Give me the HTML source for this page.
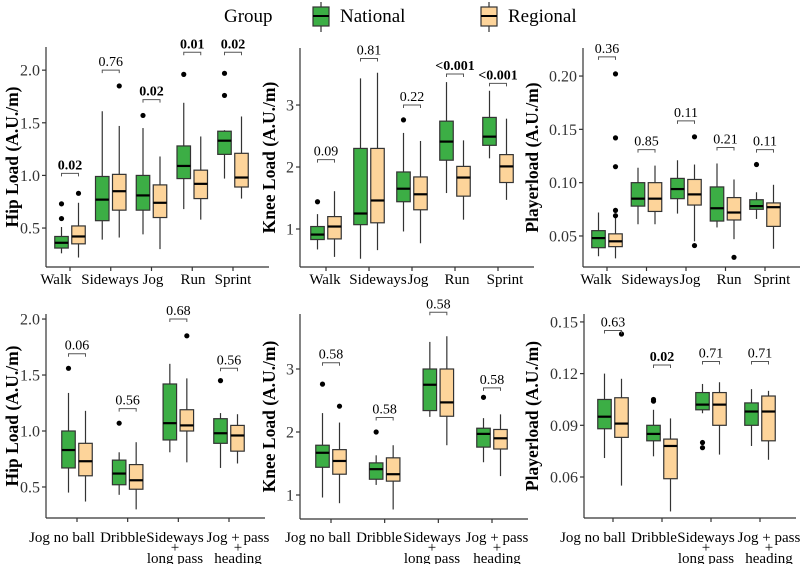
<!DOCTYPE html>
<html><head><meta charset="utf-8"><style>
html,body{margin:0;padding:0;background:#fff;}
svg{display:block;font-family:"Liberation Serif",serif;}
</style></head><body>
<svg id="chart" width="800" height="564" viewBox="0 0 800 564">
<g>
<text x="224" y="22" font-size="19" fill="#000">Group</text>
<g>
<line x1="321" y1="2" x2="321" y2="32" stroke="#333" stroke-width="1.2"/>
<rect x="313" y="7" width="16" height="19" fill="#3cae45" stroke="#333" stroke-width="1.2"/>
<line x1="313" y1="16" x2="329" y2="16" stroke="#000" stroke-width="2"/>
<text x="340" y="22" font-size="19">National</text></g>
<g>
<line x1="489" y1="2" x2="489" y2="32" stroke="#333" stroke-width="1.2"/>
<rect x="481" y="7" width="16" height="19" fill="#fdd49a" stroke="#333" stroke-width="1.2"/>
<line x1="481" y1="16" x2="497" y2="16" stroke="#000" stroke-width="2"/>
<text x="508" y="22" font-size="19">Regional</text></g>
</g>
</svg>
<script>
// ---- data: each box = [whiskerLow, q1, median, q3, whiskerHigh]
const catsTop = ["Walk","Sideways","Jog","Run","Sprint"];
const catsBottom = [["Jog no ball"],["Dribble"],["Sideways","+","long pass"],["Jog + pass","+","heading"]];

const hipTopNat = [[0.26,0.31,0.36,0.42,0.51],[0.39,0.57,0.77,0.99,1.61],[0.44,0.67,0.81,1.0,1.45],[0.68,0.97,1.09,1.28,1.69],[0.97,1.2,1.33,1.42,1.43]];
const hipTopReg = [[0.22,0.35,0.42,0.52,0.74],[0.41,0.67,0.85,1.01,1.47],[0.30,0.60,0.74,0.91,1.18],[0.58,0.78,0.92,1.05,1.37],[0.78,0.89,0.98,1.21,1.56]];
const hipTopNatOut = [[0.59,0.73],[],[1.57],[1.96],[1.76,1.97]];
const hipTopRegOut = [[0.83],[1.85],[],[],[]];
const hipTopP = ["0.02","0.76","0.02","0.01","0.02"];
const hipTopPBold = [true,false,true,true,true];
const hipTopPY = [1.02,2.0,1.72,2.17,2.17];
const hipTicks = [0.5,1.0,1.5,2.0];
const hipTickLabels = ["0.5","1.0","1.5","2.0"];

const kneeTopNat = [[0.67,0.83,0.91,1.04,1.24],[0.52,1.07,1.25,2.3,3.43],[0.96,1.44,1.65,1.92,2.55],[1.58,2.11,2.41,2.74,3.37],[2.14,2.35,2.49,2.8,3.23]];
const kneeTopReg = [[0.55,0.84,1.04,1.2,1.61],[0.66,1.1,1.46,2.3,3.52],[0.77,1.31,1.56,1.84,2.42],[1.15,1.53,1.83,2.01,2.43],[1.47,1.75,2.01,2.2,2.78]];
const kneeTopNatOut = [[1.44],[],[2.76],[],[]];
const kneeTopRegOut = [[],[],[],[],[]];
const kneeTopP = ["0.09","0.81","0.22","<0.001","<0.001"];
const kneeTopPBold = [false,false,false,true,true];
const kneeTopPY = [2.12,3.75,3.0,3.5,3.35];
const kneeTicks = [1,2,3];
const kneeTickLabels = ["1","2","3"];

const plTopNat = [[0.031,0.039,0.048,0.055,0.072],[0.061,0.078,0.085,0.100,0.114],[0.071,0.085,0.094,0.104,0.121],[0.058,0.064,0.076,0.096,0.118],[0.066,0.075,0.078,0.084,0.091]];
const plTopReg = [[0.029,0.040,0.045,0.052,0.067],[0.061,0.073,0.085,0.100,0.116],[0.045,0.079,0.089,0.103,0.117],[0.047,0.065,0.072,0.086,0.103],[0.038,0.059,0.077,0.081,0.098]];
const plTopNatOut = [[],[],[],[],[0.117]];
const plTopRegOut = [[0.069,0.074,0.115,0.142,0.202],[],[0.143,0.041],[0.030],[]];
const plTopP = ["0.36","0.85","0.11","0.21","0.11"];
const plTopPBold = [false,false,false,false,false];
const plTopPY = [0.218,0.131,0.158,0.133,0.131];
const plTopTicks = [0.05,0.10,0.15,0.20];
const plTopTickLabels = ["0.05","0.10","0.15","0.20"];

const hipBotNat = [[0.45,0.67,0.83,1.0,1.34],[0.43,0.52,0.62,0.74,0.81],[0.81,0.92,1.07,1.42,1.60],[0.67,0.89,0.98,1.11,1.16]];
const hipBotReg = [[0.37,0.60,0.73,0.89,1.18],[0.30,0.48,0.56,0.70,0.90],[0.72,1.0,1.05,1.19,1.47],[0.71,0.82,0.96,1.05,1.15]];
const hipBotNatOut = [[1.56],[1.07],[],[1.45]];
const hipBotRegOut = [[],[],[1.85],[]];
const hipBotP = ["0.06","0.56","0.68","0.56"];
const hipBotPBold = [false,false,false,false];
const hipBotPY = [1.69,1.2,2.0,1.56];

const kneeBotNat = [[0.96,1.44,1.67,1.79,2.3],[1.16,1.25,1.41,1.51,1.63],[2.24,2.34,2.75,3.0,3.43],[1.52,1.76,1.97,2.06,2.22]];
const kneeBotReg = [[0.87,1.33,1.54,1.72,2.15],[0.77,1.22,1.33,1.59,1.79],[1.79,2.25,2.47,3.0,3.52],[1.3,1.73,1.9,2.04,2.28]];
const kneeBotNatOut = [[2.76],[2.0],[],[2.55]];
const kneeBotRegOut = [[2.41],[],[],[]];
const kneeBotP = ["0.58","0.58","0.58","0.58"];
const kneeBotPBold = [false,false,false,false];
const kneeBotPY = [3.1,2.23,3.9,2.7];

const plBotNat = [[0.071,0.088,0.095,0.105,0.120],[0.072,0.081,0.085,0.090,0.099],[0.097,0.099,0.102,0.109,0.114],[0.078,0.090,0.098,0.103,0.111]];
const plBotReg = [[0.055,0.083,0.091,0.106,0.117],[0.040,0.059,0.078,0.082,0.094],[0.073,0.090,0.102,0.109,0.115],[0.070,0.081,0.098,0.107,0.110]];
const plBotNatOut = [[],[0.104,0.105],[0.077,0.080],[]];
const plBotRegOut = [[0.143],[],[],[]];
const plBotP = ["0.63","0.02","0.71","0.71"];
const plBotPBold = [false,true,false,false];
const plBotPY = [0.145,0.125,0.127,0.127];
const plBotTicks = [0.06,0.09,0.12,0.15];
const plBotTickLabels = ["0.06","0.09","0.12","0.15"];

const NS = "http://www.w3.org/2000/svg";
const svg = document.getElementById("chart");
function mk(tag, attrs, parent){ const e=document.createElementNS(NS,tag); for(const k in attrs) e.setAttribute(k,attrs[k]); (parent||svg).appendChild(e); return e; }

function panel(cfg){
  const g = mk("g",{});
  
  
  const yS = v => cfg.pb - (v - cfg.d0)/(cfg.d1 - cfg.d0)*(cfg.pb - cfg.pt);
  const n = cfg.cats.length;
  const xS = i => cfg.c0 + i*(cfg.c1 - cfg.c0)/(n-1);
  const ya = mk("line",{x1:cfg.ax,y1:cfg.pt,x2:cfg.ax,y2:cfg.pb,stroke:"#333","stroke-width":1.2},g);
  
  
  const xa = mk("line",{x1:cfg.ax,y1:cfg.pb,x2:cfg.c1+36,y2:cfg.pb,stroke:"#333","stroke-width":1.2},g);
  
  
  cfg.ticks.forEach((t,i)=>{
    const y=yS(t);
    mk("line",{x1:cfg.ax-4,y1:y,x2:cfg.ax,y2:y,stroke:"#333","stroke-width":1.2},g);
    const tl=mk("text",{x:cfg.ax-6,y:y+5.5,"text-anchor":"end","font-size":16,fill:"#333"},g);
    tl.textContent=cfg.tickLabels[i];
    
    
  });
  const yt=mk("text",{transform:`translate(${cfg.tx},${(cfg.pt+cfg.pb)/2}) rotate(-90)`,"text-anchor":"middle","font-size":17.5,"font-weight":"bold"},g);
  yt.textContent=cfg.title;
  
  
  const off=8.5, w=13.5;
  cfg.cats.forEach((c,i)=>{
    const cx=xS(i);
    mk("line",{x1:cx,y1:cfg.pb,x2:cx,y2:cfg.pb+4,stroke:"#333","stroke-width":1.2},g);
    const lines = Array.isArray(c)?c:[c];
    const lx = cfg.labelX[i];
    const xl=mk("text",{x:lx,y:cfg.ly,"text-anchor":"middle","font-size":15},g);
    lines.forEach((ln,j)=>{ const ts=mk("tspan",{x:lx,y:cfg.ly+(j===0?0:(j===1?10:21))},xl); ts.textContent=ln; });
    
    
    [[cfg.nat,cfg.natOut,"#3cae45",-off,"national"],[cfg.reg,cfg.regOut,"#fdd49a",off,"regional"]].forEach(([data,outs,col,o,nm])=>{
      const b=data[i], bx=cx+o;
      const bg=mk("g",{},g);
      
      
      mk("line",{x1:bx,y1:yS(b[0]),x2:bx,y2:yS(b[4]),stroke:"#333","stroke-width":1.2},bg);
      mk("rect",{x:bx-w/2,y:yS(b[3]),width:w,height:yS(b[1])-yS(b[3]),fill:col,stroke:"#333","stroke-width":1.2},bg);
      mk("line",{x1:bx-w/2,y1:yS(b[2]),x2:bx+w/2,y2:yS(b[2]),stroke:"#000","stroke-width":2.2},bg);
      outs[i].forEach(v=>{ const d=mk("circle",{cx:bx,cy:yS(v),r:2.6,fill:"#000"},bg);
        
         });
    });
    const py=yS(cfg.pY[i]);
    const br=mk("path",{d:`M${cx-off},${py+3}V${py}H${cx+off}V${py+3}`,fill:"none",stroke:"#555","stroke-width":1},g);
    
    
    const pt=mk("text",{x:cx,y:py-4,"text-anchor":"middle","font-size":14,"font-weight":cfg.pBold[i]?"bold":"normal"},g);
    pt.textContent=cfg.p[i];
    
    
  });
}

panel({name:"hip-load-top-panel",cats:catsTop,nat:hipTopNat,reg:hipTopReg,natOut:hipTopNatOut,regOut:hipTopRegOut,p:hipTopP,pBold:hipTopPBold,pY:hipTopPY,ticks:hipTicks,tickLabels:hipTickLabels,title:"Hip Load (A.U./m)",ax:46,pt:47,pb:267,d0:0.13,d1:2.22,c0:70,c1:233,ly:284,tx:18,labelX:[56,110,153,193,233]});
panel({name:"knee-load-top-panel",cats:catsTop,nat:kneeTopNat,reg:kneeTopReg,natOut:kneeTopNatOut,regOut:kneeTopRegOut,p:kneeTopP,pBold:kneeTopPBold,pY:kneeTopPY,ticks:kneeTicks,tickLabels:kneeTickLabels,title:"Knee Load (A.U./m)",ax:300,pt:48,pb:267,d0:0.387,d1:3.92,c0:326,c1:498,ly:284,tx:275,labelX:[325,378,418,457,505]});
panel({name:"playerload-top-panel",cats:catsTop,nat:plTopNat,reg:plTopReg,natOut:plTopNatOut,regOut:plTopRegOut,p:plTopP,pBold:plTopPBold,pY:plTopPY,ticks:plTopTicks,tickLabels:plTopTickLabels,title:"Playerload (A.U./m)",ax:583,pt:48,pb:267,d0:0.0209,d1:0.2263,c0:607,c1:765,ly:284,tx:538,labelX:[596,650,690,729,772]});
panel({name:"hip-load-bottom-panel",cats:catsBottom,nat:hipBotNat,reg:hipBotReg,natOut:hipBotNatOut,regOut:hipBotRegOut,p:hipBotP,pBold:hipBotPBold,pY:hipBotPY,ticks:hipTicks,tickLabels:hipTickLabels,title:"Hip Load (A.U./m)",ax:46,pt:314,pb:518,d0:0.223,d1:2.045,c0:77,c1:229,ly:542,tx:18,labelX:[62,123,175,238]});
panel({name:"knee-load-bottom-panel",cats:catsBottom,nat:kneeBotNat,reg:kneeBotReg,natOut:kneeBotNatOut,regOut:kneeBotRegOut,p:kneeBotP,pBold:kneeBotPBold,pY:kneeBotPY,ticks:kneeTicks,tickLabels:kneeTickLabels,title:"Knee Load (A.U./m)",ax:300,pt:314,pb:519,d0:0.619,d1:3.873,c0:331,c1:492,ly:542,tx:275,labelX:[318,379,432,497]});
panel({name:"playerload-bottom-panel",cats:catsBottom,nat:plBotNat,reg:plBotReg,natOut:plBotNatOut,regOut:plBotRegOut,p:plBotP,pBold:plBotPBold,pY:plBotPY,ticks:plBotTicks,tickLabels:plBotTickLabels,title:"Playerload (A.U./m)",ax:584,pt:314,pb:518,d0:0.0362,d1:0.1546,c0:613,c1:760,ly:542,tx:538,labelX:[593,654,706,769]});
</script>
</body></html>
